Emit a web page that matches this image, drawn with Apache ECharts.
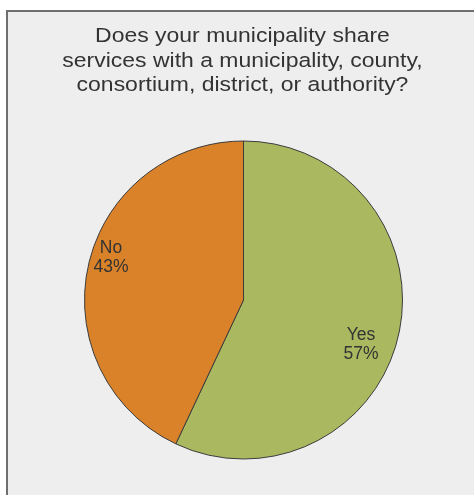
<!DOCTYPE html>
<html>
<head>
<meta charset="utf-8">
<style>
  html, body { margin: 0; padding: 0; background: #ffffff; }
  #chart { width: 474px; height: 495px; }
</style>
<script src="https://cdn.jsdelivr.net/npm/echarts@6/dist/echarts.min.js"></script>
</head>
<body>
<div id="chart"></div>
<script>
// Survey answers and their share of respondents (percent)
const categories = ['Yes', 'No'];
const shares = [57, 43];
const sliceColors = ['#aab960', '#d98229'];

// Chart heading, one entry per line
const titleLines = [
  'Does your municipality share',
  'services with a municipality, county,',
  'consortium, district, or authority?'
];

// Nudges for the in-slice labels, per slice
const labelShift = [
  { dx: 37, dy: 27 },
  { dx: -52, dy: -24 }
];

const chart = echarts.init(document.getElementById('chart'), null, { renderer: 'canvas' });

chart.setOption({
  backgroundColor: '#ffffff',
  animation: false,
  graphic: [
    {
      type: 'rect',
      z: -10,
      silent: true,
      shape: { x: 7, y: 11, width: 490, height: 500 },
      style: { fill: '#eeeeee', stroke: '#6e6e6e', lineWidth: 2 }
    },
    {
      // heading, set in a slightly widened face
      type: 'text',
      silent: true,
      x: 242.5,
      y: 24.5,
      scaleX: 1.12,
      style: {
        text: titleLines.join('\n'),
        fontFamily: 'Liberation Sans, Arial, sans-serif',
        fontSize: 20.5,
        lineHeight: 24.5,
        fill: '#333333',
        align: 'center',
        verticalAlign: 'top'
      }
    }
  ],
  series: [{
    type: 'pie',
    center: [243.5, 300],
    radius: 159,
    startAngle: 90,
    clockwise: true,
    silent: true,
    data: categories.map((name, i) => ({
      name,
      value: shares[i],
      itemStyle: { color: sliceColors[i] }
    })),
    itemStyle: { borderColor: '#3c3c3c', borderWidth: 1 },
    label: {
      show: true,
      position: 'inside',
      formatter: '{b}\n{c}%',
      fontFamily: 'Liberation Sans, Arial, sans-serif',
      fontSize: 17.5,
      lineHeight: 19,
      color: '#333333'
    },
    labelLine: { show: false },
    labelLayout: (params) => labelShift[params.dataIndex]
  }]
});
</script>
</body>
</html>
